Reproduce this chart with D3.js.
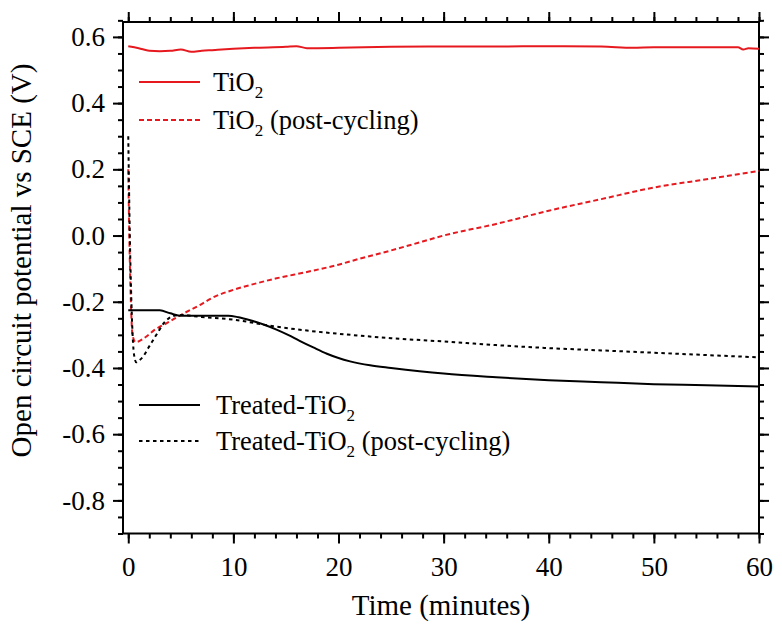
<!DOCTYPE html>
<html>
<head>
<meta charset="utf-8">
<script src="https://cdn.jsdelivr.net/npm/d3@7"></script>
<style>
  html, body { margin: 0; padding: 0; background: #fff; }
  svg text { font-family: "Liberation Serif", "Times New Roman", serif !important; fill: #000; }
</style>
</head>
<body>
<svg id="chart" width="782" height="637"></svg>
<script>
// ---- Data ----
const tio2Time = [0, 1, 2, 3, 4, 5, 6, 7, 8, 10, 12, 15, 16, 17, 20, 25, 30, 35, 40, 45, 48, 50, 55, 58, 58.5, 59, 60];
const tio2Value = [0.572, 0.566, 0.558, 0.557, 0.558, 0.562, 0.555, 0.558, 0.560, 0.564, 0.567, 0.570, 0.572, 0.566, 0.567, 0.570, 0.571, 0.571, 0.572, 0.571, 0.567, 0.569, 0.569, 0.569, 0.562, 0.566, 0.564];

const tio2PostTime = [0, 0.1, 0.25, 0.4, 0.7, 1.5, 2.5, 3.7, 5, 6.8, 8, 10, 12, 14, 17, 20, 22, 25, 28, 30, 35, 40, 45, 50, 55, 60];
const tio2PostValue = [0.20, 0.0, -0.20, -0.30, -0.322, -0.31, -0.285, -0.264, -0.240, -0.210, -0.188, -0.164, -0.146, -0.130, -0.110, -0.088, -0.070, -0.045, -0.018, 0.0, 0.035, 0.075, 0.110, 0.145, 0.170, 0.195];

const treatedTime = [0, 1, 2, 3, 4, 4.9, 7, 9.5, 10.5, 11.6, 12.8, 14.1, 15.2, 16.3, 17.6, 18.9, 20, 21.1, 23, 25, 30, 35, 40, 45, 50, 55, 60];
const treatedValue = [-0.226, -0.226, -0.226, -0.226, -0.235, -0.242, -0.242, -0.242, -0.247, -0.256, -0.268, -0.284, -0.300, -0.318, -0.338, -0.357, -0.370, -0.380, -0.392, -0.400, -0.417, -0.428, -0.437, -0.443, -0.449, -0.452, -0.456];

const treatedPostTime = [0, 0.15, 0.35, 0.55, 0.76, 1.0, 1.45, 1.9, 2.4, 2.9, 3.4, 4.2, 4.9, 7, 10, 13.8, 17, 20.8, 25, 30, 35, 40, 45, 50, 55, 60];
const treatedPostValue = [0.30, 0.0, -0.25, -0.36, -0.383, -0.378, -0.364, -0.340, -0.314, -0.288, -0.264, -0.244, -0.240, -0.246, -0.254, -0.274, -0.287, -0.299, -0.310, -0.320, -0.331, -0.340, -0.347, -0.354, -0.361, -0.368];

const xTicks = [0, 10, 20, 30, 40, 50, 60];
const yTicks = [-0.8, -0.6, -0.4, -0.2, 0.0, 0.2, 0.4, 0.6];
const xMinorTicks = d3.range(0, 61, 2);
const yMinorTicks = d3.range(-0.9, 0.6501, 0.05).map(v => Math.round(v * 100) / 100);

const seriesNames = ["TiO", "TiO", "Treated-TiO", "Treated-TiO"];
const seriesSuffix = ["", " (post-cycling)", "", " (post-cycling)"];

const xTitle = "Time (minutes)";
const yTitle = "Open circuit potential vs SCE (V)";

// ---- Layout ----
const svg = d3.select("#chart");
const mLeft = 123, mRight = 759, mTop = 22, mBottom = 533.5;
const RED = "#e6191f";
const FONT = '"Liberation Serif", "Times New Roman", serif';

const x = d3.scaleLinear().domain([-0.5, 60]).range([mLeft, mRight]);
const y = d3.scaleLinear().domain([-0.9, 0.645]).range([mBottom, mTop]);

const fmtY = d => d3.format(".1f")(d).replace("\u2212", "-");

// minor ticks
const g = svg.append("g");
g.append("g").attr("transform", `translate(0,${mBottom})`)
  .call(d3.axisBottom(x).tickValues(xMinorTicks).tickSize(5).tickFormat("").tickSizeOuter(0));
g.append("g").attr("transform", `translate(0,${mTop})`)
  .call(d3.axisTop(x).tickValues(xMinorTicks).tickSize(5).tickFormat("").tickSizeOuter(0));
g.append("g").attr("transform", `translate(${mLeft},0)`)
  .call(d3.axisLeft(y).tickValues(yMinorTicks).tickSize(5).tickFormat("").tickSizeOuter(0));
g.append("g").attr("transform", `translate(${mRight},0)`)
  .call(d3.axisRight(y).tickValues(yMinorTicks).tickSize(5).tickFormat("").tickSizeOuter(0));

// major ticks
g.append("g").attr("transform", `translate(0,${mBottom})`)
  .call(d3.axisBottom(x).tickValues(xTicks).tickSize(10).tickPadding(13).tickSizeOuter(0));
g.append("g").attr("transform", `translate(0,${mTop})`)
  .call(d3.axisTop(x).tickValues(xTicks).tickSize(10).tickFormat("").tickSizeOuter(0));
g.append("g").attr("transform", `translate(${mLeft},0)`)
  .call(d3.axisLeft(y).tickValues(yTicks).tickSize(10).tickPadding(8).tickFormat(fmtY).tickSizeOuter(0));
g.append("g").attr("transform", `translate(${mRight},0)`)
  .call(d3.axisRight(y).tickValues(yTicks).tickSize(10).tickFormat("").tickSizeOuter(0));

g.selectAll("g").attr("font-family", FONT);
g.selectAll(".domain").remove();
g.selectAll(".tick line").attr("stroke", "#000").attr("stroke-width", 2);
g.selectAll(".tick text").attr("font-size", 27).style("font-family", FONT);

// frame
svg.append("rect").attr("x", mLeft).attr("y", mTop)
  .attr("width", mRight - mLeft).attr("height", mBottom - mTop)
  .attr("fill", "none").attr("stroke", "#000").attr("stroke-width", 2);

// lines
svg.append("clipPath").attr("id", "clip").append("rect")
  .attr("x", mLeft).attr("y", mTop).attr("width", mRight - mLeft).attr("height", mBottom - mTop);

const line = d3.line().x(d => x(d[0])).y(d => y(d[1])).curve(d3.curveMonotoneX);
const series = [
  { t: tio2Time, v: tio2Value, color: RED, dash: null },
  { t: tio2PostTime, v: tio2PostValue, color: RED, dash: "5,3" },
  { t: treatedTime, v: treatedValue, color: "#000", dash: null },
  { t: treatedPostTime, v: treatedPostValue, color: "#000", dash: "3.5,3.5" }
];
const plot = svg.append("g").attr("clip-path", "url(#clip)");
[1, 3, 2, 0].forEach(i => {
  const s = series[i];
  plot.append("path")
    .datum(s.t.map((t, j) => [t, s.v[j]]))
    .attr("fill", "none")
    .attr("stroke", s.color)
    .attr("stroke-width", 2)
    .attr("stroke-dasharray", s.dash)
    .attr("d", line);
});

// legends
const legendPos = [
  { ly: 82, lx1: 139, lx2: 200, tx: 213 },
  { ly: 120, lx1: 139, lx2: 200, tx: 213 },
  { ly: 405, lx1: 139, lx2: 200, tx: 216 },
  { ly: 441, lx1: 139, lx2: 200, tx: 216 }
];
legendPos.forEach((p, i) => {
  const s = series[i];
  svg.append("line").attr("x1", p.lx1).attr("x2", p.lx2).attr("y1", p.ly).attr("y2", p.ly)
    .attr("stroke", s.color).attr("stroke-width", 2).attr("stroke-dasharray", s.dash);
  const t = svg.append("text").attr("x", p.tx).attr("y", p.ly).attr("dy", "0.35em")
    .attr("font-size", 26.5);
  t.append("tspan").text(seriesNames[i]);
  t.append("tspan").attr("font-size", 17).attr("dy", 7).text("2");
  if (seriesSuffix[i]) t.append("tspan").attr("dy", -7).text(seriesSuffix[i]);
});

// axis titles
svg.append("text").attr("x", (mLeft + mRight) / 2).attr("y", 615)
  .attr("text-anchor", "middle").attr("font-size", 29).text(xTitle);
svg.append("text").attr("transform", `translate(31,${260.5}) rotate(-90)`)
  .attr("text-anchor", "middle").attr("font-size", 29).text(yTitle);
</script>
</body>
</html>
